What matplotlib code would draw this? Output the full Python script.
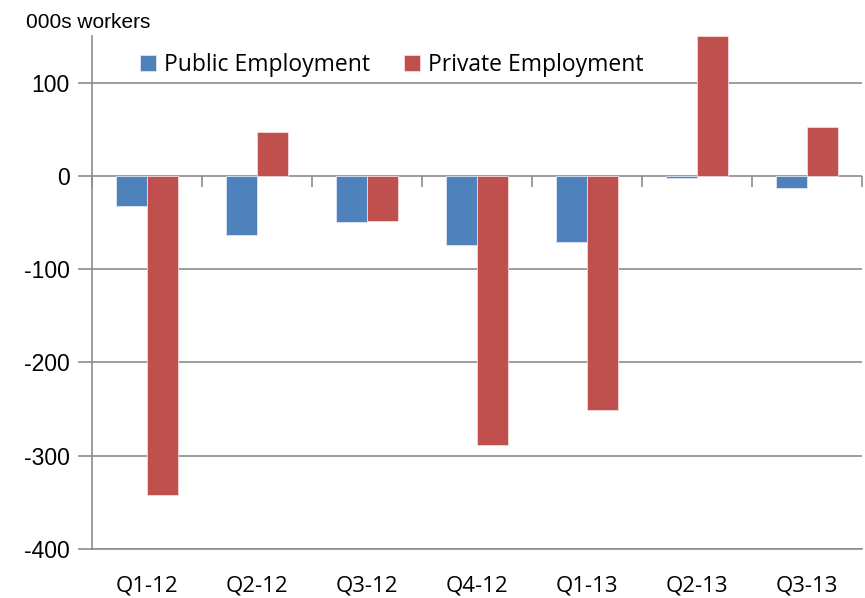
import numpy as np
import matplotlib.pyplot as plt

plt.rcParams["axes.unicode_minus"] = False

quarters = ["Q1-12", "Q2-12", "Q3-12", "Q4-12", "Q1-13", "Q2-13", "Q3-13"]
public = [-32, -63, -49, -74, -71, -2, -13]
private = [-342, 47, -48, -289, -251, 150, 52]

blue = "#4F81BD"
red = "#C0504D"
grey = "#8C8C8C"

fig = plt.figure(figsize=(8.65, 5.98), dpi=100)
ax = fig.add_axes([92 / 865, 1 - 549 / 598, 770 / 865, 513 / 598])

x = np.arange(len(quarters))
w = 0.285
ax.bar(x - w / 2, public, w, color=blue, edgecolor="#DCE6F2", linewidth=0.6,
       label="Public Employment", zorder=3)
ax.bar(x + w / 2, private, w, color=red, edgecolor="#F2DCDB", linewidth=0.6,
       label="Private Employment", zorder=3)

ax.set_xlim(-0.5, len(quarters) - 0.5)
ax.set_ylim(-400, 150)
ax.set_yticks([-400, -300, -200, -100, 0, 100])
ax.yaxis.grid(True, color=grey, linewidth=1.2)
ax.set_axisbelow(True)

for s in ["top", "right"]:
    ax.spines[s].set_visible(False)
for s in ["left", "bottom"]:
    ax.spines[s].set_color(grey)
    ax.spines[s].set_linewidth(1.2)

ax.tick_params(axis="y", direction="out", length=10, width=1.2, color=grey,
               labelsize=16.5, pad=6)
for lab in ax.get_yticklabels():
    lab.set_fontfamily("Liberation Sans")

ax.set_xticks(x)
ax.set_xticklabels(quarters, fontfamily="Open Sans", fontsize=16)
ax.tick_params(axis="x", length=0, pad=19)

# category boundary ticks hanging below the zero line
sec = ax.secondary_xaxis(400 / 550)
sec.xaxis.set_ticks_position("bottom")
sec.set_xticks(np.arange(len(quarters) + 1) - 0.5)
sec.set_xticklabels([])
sec.tick_params(axis="x", direction="out", length=8, width=1.2, color=grey)
sec.spines["bottom"].set_visible(False)
sec.spines["top"].set_visible(False)

ax.legend(loc="upper left", bbox_to_anchor=(0.04, 1.0), ncol=2, frameon=False,
          prop={"family": "Open Sans", "size": 16.5}, handlelength=0.7,
          handleheight=0.7, handletextpad=0.35, columnspacing=1.5,
          borderaxespad=0.35)

fig.text(26 / 865, 1 - 23 / 598, "000s workers", fontfamily="Liberation Sans",
         fontsize=15, va="center", ha="left")

fig.savefig("out.png", dpi=100)
